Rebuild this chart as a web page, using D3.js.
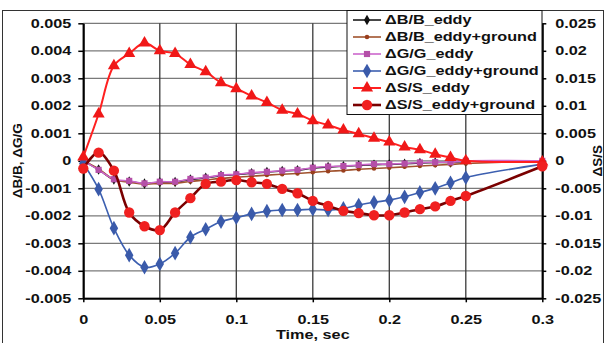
<!DOCTYPE html>
<html>
<head>
<meta charset="utf-8">
<script src="https://cdn.jsdelivr.net/npm/d3@7"></script>
<style>
  html, body { margin: 0; padding: 0; background: #fff; }
  svg text { font-family: "Liberation Sans", Arial, sans-serif; font-weight: bold; fill: #111; }
</style>
</head>
<body>
<div id="chart"></div>
<script>
// time points, sec
const times = [0, 0.01, 0.02, 0.03, 0.04, 0.05, 0.06, 0.07, 0.08, 0.09, 0.10, 0.11, 0.12, 0.13,
  0.14, 0.15, 0.16, 0.17, 0.18, 0.19, 0.20, 0.21, 0.22, 0.23, 0.24, 0.25, 0.30];

// left axis series
const bEddy = [0, -0.00032, -0.00068, -0.00075, -0.00083, -0.00078, -0.00077, -0.00068, -0.00062, -0.00054,
  -0.0005, -0.00045, -0.00041, -0.00037, -0.00034, -0.00027, -0.00023, -0.0002, -0.00017, -0.00014,
  -0.00013, -0.00011, -0.00008, -0.00006, -0.00006, -0.00002, 0];
const bGround = [0, -0.0003, -0.00068, -0.00078, -0.00085, -0.00082, -0.00082, -0.00075, -0.0007, -0.00064,
  -0.0006, -0.00056, -0.00052, -0.00049, -0.00046, -0.00042, -0.00038, -0.00035, -0.00031, -0.00028,
  -0.00025, -0.00022, -0.00019, -0.00016, -0.00013, -0.0001, 0];
const gEddy = [0, -0.00033, -0.00067, -0.00073, -0.00082, -0.00076, -0.00076, -0.00066, -0.00061, -0.00052,
  -0.00049, -0.00043, -0.0004, -0.00036, -0.00033, -0.00025, -0.00021, -0.00019, -0.00015, -0.00012,
  -0.00012, -0.0001, -0.00006, -0.00005, -0.00005, 0, 0];
const gGround = [-0.0001, -0.00103, -0.00245, -0.00343, -0.00387, -0.00375, -0.00336, -0.00278, -0.00249, -0.00221,
  -0.00207, -0.00193, -0.00183, -0.00179, -0.00179, -0.00176, -0.00179, -0.00173, -0.00161, -0.00151,
  -0.00143, -0.00131, -0.00115, -0.001, -0.0008, -0.00061, -0.00012];

// right axis series
const sEddy = [0.0007, 0.0085, 0.0173, 0.0195, 0.0214, 0.02, 0.0195, 0.0175, 0.0162, 0.0142,
  0.0131, 0.0118, 0.0106, 0.0092, 0.0085, 0.0073, 0.0065, 0.0056, 0.0049, 0.0041,
  0.0034, 0.0025, 0.002, 0.0012, 0.0006, 0.0, -0.0002];
const sGround = [-0.0014, 0.0015, -0.0018, -0.0094, -0.0119, -0.0126, -0.0094, -0.0068, -0.0042, -0.0038,
  -0.0035, -0.0039, -0.0042, -0.0051, -0.0059, -0.0073, -0.0082, -0.0091, -0.0095, -0.0099,
  -0.0099, -0.0094, -0.0088, -0.0083, -0.0073, -0.0064, -0.001];

const xTicks = [0, 0.05, 0.1, 0.15, 0.2, 0.25, 0.3];
const xTickLabels = ['0', '0.05', '0.1', '0.15', '0.2', '0.25', '0.3'];
const yLTicks = [0.005, 0.004, 0.003, 0.002, 0.001, 0, -0.001, -0.002, -0.003, -0.004, -0.005];
const yLTickLabels = ['0.005', '0.004', '0.003', '0.002', '0.001', '0', '-0.001', '-0.002', '-0.003', '-0.004', '-0.005'];
const yRTicks = [0.025, 0.02, 0.015, 0.01, 0.005, 0, -0.005, -0.01, -0.015, -0.02, -0.025];
const yRTickLabels = ['0.025', '0.02', '0.015', '0.01', '0.005', '0', '-0.005', '-0.01', '-0.015', '-0.02', '-0.025'];

const series = [
  { name: '\u0394B/B_eddy', values: bEddy, axis: 'L', line: '#1a1a1a', lw: 1.6, fill: '#111', sym: d3.symbolDiamond, size: 32 },
  { name: '\u0394B/B_eddy+ground', values: bGround, axis: 'L', line: '#a0522d', lw: 1.6, fill: '#9a3f1e', sym: d3.symbolCircle, size: 16 },
  { name: '\u0394G/G_eddy', values: gEddy, axis: 'L', line: '#cc66cc', lw: 1.6, fill: '#b44fa8', sym: d3.symbolSquare, size: 38 },
  { name: '\u0394G/G_eddy+ground', values: gGround, axis: 'L', line: '#3c5fb0', lw: 1.6, fill: '#3a5aaa', sym: d3.symbolDiamond, size: 62 },
  { name: '\u0394S/S_eddy', values: sEddy, axis: 'R', line: '#ff2020', lw: 2, fill: '#f01818', sym: d3.symbolTriangle, size: 64 },
  { name: '\u0394S/S_eddy+ground', values: sGround, axis: 'R', line: '#7a0000', lw: 2.6, fill: '#f02020', sym: d3.symbolCircle, size: 84 },
];

const W = 607, H = 343;
const SX = 1.3; // text in the source is stretched sideways
const FS = '12.5px';

const svg = d3.select('#chart').append('svg').attr('width', W).attr('height', H);

const x = d3.scaleLinear().domain([0, 0.3]).range([83.3, 542.3]);
const yL = d3.scaleLinear().domain([-0.005, 0.005]).range([298.3, 23.3]);
const yR = d3.scaleLinear().domain([-0.025, 0.025]).range([298.3, 23.3]);

// outer frame
svg.append('rect').attr('x', 2.5).attr('y', 10.5).attr('width', 601).attr('height', 340)
  .attr('fill', 'none').attr('stroke', '#333').attr('stroke-width', 1);

// grid
svg.append('g').selectAll('line').data(yLTicks).join('line')
  .attr('x1', x(0)).attr('x2', x(0.3))
  .attr('y1', d => yL(d)).attr('y2', d => yL(d))
  .attr('stroke', '#7a7a7a').attr('stroke-width', 1.3);
svg.append('g').selectAll('line').data(xTicks).join('line')
  .attr('x1', d => x(d)).attr('x2', d => x(d))
  .attr('y1', yL(0.005)).attr('y2', yL(-0.005))
  .attr('stroke', '#3a3a3a').attr('stroke-width', 1.3);

// axes
const gx = svg.append('g').attr('transform', `translate(0,${yL(-0.005)})`)
  .call(d3.axisBottom(x).tickValues(xTicks).tickFormat((d, i) => xTickLabels[i]).tickSizeInner(4).tickSizeOuter(0).tickPadding(12.5));
const gl = svg.append('g').attr('transform', `translate(${x(0)},0)`)
  .call(d3.axisLeft(yL).tickValues(yLTicks).tickFormat((d, i) => yLTickLabels[i]).tickSizeInner(5).tickSizeOuter(0).tickPadding(7));
const gr = svg.append('g').attr('transform', `translate(${x(0.3)},0)`)
  .call(d3.axisRight(yR).tickValues(yRTicks).tickFormat((d, i) => yRTickLabels[i]).tickSizeInner(4).tickSizeOuter(0).tickPadding(9));

[gx, gl, gr].forEach(g => {
  g.select('.domain').attr('stroke', '#000').attr('stroke-width', 2);
  g.selectAll('.tick line').attr('stroke', '#000').attr('stroke-width', 1.5);
  g.selectAll('text').attr('fill', '#111').style('font-size', FS)
    .attr('x', function () { return (+d3.select(this).attr('x') || 0) / SX; })
    .attr('transform', `scale(${SX},1)`);
});

// axis titles
svg.append('text').attr('transform', `translate(${x(0.15)},338.5) scale(${SX},1)`)
  .attr('text-anchor', 'middle').style('font-size', FS).text('Time, sec');
svg.append('text').attr('transform', `translate(22,${yL(0)}) rotate(-90)`)
  .attr('text-anchor', 'middle').style('font-size', '13.5px').text('\u0394B/B, \u0394G/G');
svg.append('text').attr('transform', `translate(602,${yL(0)}) rotate(-90)`)
  .attr('text-anchor', 'middle').style('font-size', '13.5px').text('\u0394S/S');

// series
const plot = svg.append('g');
series.forEach(s => {
  const ys = s.axis === 'L' ? yL : yR;
  const pts = times.map((t, i) => [x(t), ys(s.values[i])]);
  plot.append('path').datum(pts)
    .attr('d', d3.line().curve(d3.curveCatmullRom.alpha(0.5)))
    .attr('fill', 'none').attr('stroke', s.line).attr('stroke-width', s.lw);
  plot.append('g').selectAll('path').data(pts).join('path')
    .attr('transform', d => `translate(${d[0]},${d[1]})`)
    .attr('d', d3.symbol().type(s.sym).size(s.size))
    .attr('fill', s.fill);
});

// legend
const lg = svg.append('g');
lg.append('rect').attr('x', 347).attr('y', 10.5).attr('width', 195).attr('height', 104)
  .attr('fill', '#fff').attr('stroke', '#111').attr('stroke-width', 1);
series.forEach((s, i) => {
  const cy = 20 + i * 17;
  lg.append('line').attr('x1', 353).attr('x2', 381).attr('y1', cy).attr('y2', cy)
    .attr('stroke', s.line).attr('stroke-width', s.lw);
  lg.append('path').attr('transform', `translate(367,${cy})`)
    .attr('d', d3.symbol().type(s.sym).size(s.size)).attr('fill', s.fill);
  lg.append('text').attr('transform', `translate(385,${cy + 4.4}) scale(${SX},1)`)
    .style('font-size', FS).text(s.name);
});
</script>
</body>
</html>
